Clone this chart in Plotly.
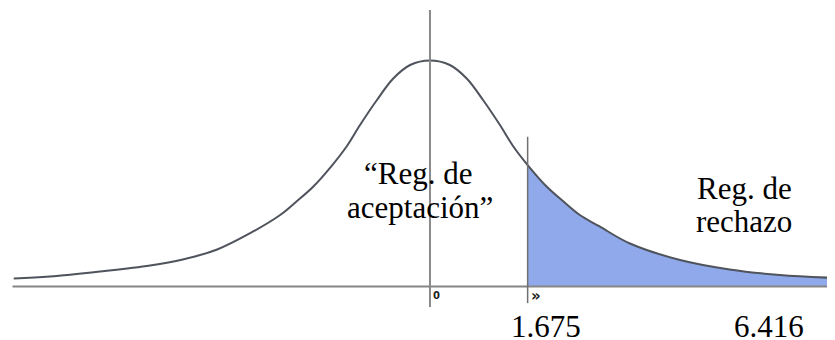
import plotly.graph_objects as go

# Curva: t (eje horizontal) y densidad (altura)
t_vals = [-7.14, -6.52, -5.66, -4.80, -4.24, -3.65, -3.09, -2.57, -2.29, -2.00, -1.675,
          -1.43, -1.20, -0.91, -0.63, -0.34, 0.0, 0.34, 0.63, 0.91, 1.20, 1.43, 1.675,
          2.00, 2.29, 2.57, 2.91, 3.43, 4.29, 5.14, 6.00, 6.96]
densidad = [0.0125, 0.0156, 0.0234, 0.0328, 0.0422, 0.0578, 0.0830, 0.1117, 0.1328, 0.1563, 0.1898,
            0.2188, 0.2523, 0.2914, 0.3250, 0.3461, 0.3531, 0.3461, 0.3250, 0.2914, 0.2523, 0.2188, 0.1898,
            0.1563, 0.1328, 0.1117, 0.0938, 0.0672, 0.0414, 0.0266, 0.0180, 0.0133]
t_critico = 1.675
t_calculado = 6.416
etiquetas_eje = ["0", "»"]

fig = go.Figure()

# Región de rechazo sombreada
x_rech = [t for t in t_vals if t >= t_critico]
y_rech = [d for t, d in zip(t_vals, densidad) if t >= t_critico]
fig.add_trace(go.Scatter(x=x_rech, y=y_rech, mode="lines", line=dict(width=0, shape="spline"),
                         fill="tozeroy", fillcolor="#8fa9ea", hoverinfo="skip"))

# Curva de densidad
fig.add_trace(go.Scatter(x=t_vals, y=densidad, mode="lines",
                         line=dict(color="#4f535c", width=2, shape="spline")))

# Ejes dibujados a mano
fig.add_shape(type="line", x0=-7.16, x1=7.0, y0=0, y1=0, line=dict(color="#858585", width=2))
fig.add_shape(type="line", x0=0, x1=0, y0=-0.032, y1=0.432, line=dict(color="#8a8a8a", width=2))
fig.add_shape(type="line", x0=t_critico, x1=t_critico, y0=-0.026, y1=0.234,
              line=dict(color="#707070", width=1.5))

fuente = dict(family="Liberation Serif, Times New Roman, serif", size=31, color="black")

def texto(x, y, s, f=fuente, xa="center"):
    fig.add_annotation(x=x, y=y, xref="x", yref="paper", text=s, showarrow=False,
                       font=f, xanchor=xa, yanchor="middle")

texto(-0.21, 0.503, "“Reg. de")
texto(-0.17, 0.3976, "aceptación”")
texto(5.39, 0.4578, "Reg. de")
texto(5.39, 0.3575, "rechazo")
texto(1.99, 0.042, str(t_critico))
texto(5.81, 0.042, str(t_calculado))

# marcas pequeñas junto al eje
texto(0.02, 0.134, "<b>" + etiquetas_eje[0] + "</b>",
      dict(family="DejaVu Sans", size=10, color="#222222"), "left")
texto(t_critico + 0.03, 0.134, "<b>" + etiquetas_eje[1] + "</b>",
      dict(family="DejaVu Sans", size=15, color="#222222"), "left")

# la página deja 8 px de margen, así que la figura ocupa el resto de la ventana
fig.update_layout(
    width=827, height=332,
    margin=dict(l=0, r=0, t=0, b=0),
    paper_bgcolor="white", plot_bgcolor="white",
    showlegend=False,
    xaxis=dict(range=[-7.238, 6.947], visible=False, fixedrange=True),
    yaxis=dict(range=[-0.0836, 0.4352], visible=False, fixedrange=True),
)

fig.write_html("out.html")
